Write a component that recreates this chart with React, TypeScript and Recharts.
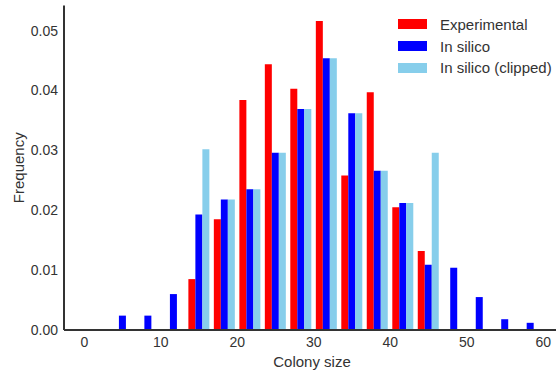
import { BarChart, Bar, XAxis, YAxis, Legend } from "recharts";

// bin centres of the histogram (colony size)
const binCenters = [5.0, 8.33, 11.67, 15.0, 18.33, 21.67, 25.0, 28.33, 31.67, 35.0, 38.33, 41.67, 45.0, 48.33, 51.67, 55.0, 58.33];

const experimental = [0, 0, 0, 0.0085, 0.0185, 0.0384, 0.0444, 0.0403, 0.0516, 0.0258, 0.0397, 0.0205, 0.0132, 0, 0, 0, 0];
const inSilico = [0.0024, 0.0024, 0.006, 0.0193, 0.0218, 0.0235, 0.0296, 0.0369, 0.0454, 0.0362, 0.0266, 0.0212, 0.0109, 0.0104, 0.0055, 0.0018, 0.0012];
const inSilicoClipped = [0, 0, 0, 0.0302, 0.0218, 0.0235, 0.0296, 0.0369, 0.0454, 0.0362, 0.0266, 0.0212, 0.0296, 0, 0, 0, 0];

const xTicks = [0, 10, 20, 30, 40, 50, 60];
const yTicks = [0, 0.01, 0.02, 0.03, 0.04, 0.05];

const series = [
  { key: "experimental", name: "Experimental", color: "#ff0000" },
  { key: "inSilico", name: "In silico", color: "#0000ff" },
  { key: "clipped", name: "In silico (clipped)", color: "#87ceeb" },
];

const data = binCenters.map((x, i) => ({
  x,
  experimental: experimental[i],
  inSilico: inSilico[i],
  clipped: inSilicoClipped[i],
}));

const FONT = "'Liberation Sans', Arial, sans-serif";
const AXIS = "#333333";
const TEXT = "#333333";

const renderLegend = () => (
  <div style={{ fontFamily: FONT, fontSize: 15, color: TEXT }}>
    {series.map((s) => (
      <div key={s.key} style={{ display: "flex", alignItems: "center", height: 21.7 }}>
        <span style={{ display: "inline-block", width: 29, height: 10, background: s.color, marginRight: 13 }} />
        <span>{s.name}</span>
      </div>
    ))}
  </div>
);

export default function App() {
  return (
    <div style={{ position: "absolute", left: 0, top: 0, width: 556, height: 372, overflow: "hidden", background: "#fff" }}>
      <BarChart
        width={570}
        height={372}
        data={data}
        barGap={0}
        margin={{ top: 5.5, right: 10, bottom: 0, left: 0 }}
      >
        <XAxis
          dataKey="x"
          type="number"
          domain={[-2.67, 62.2]}
          ticks={xTicks}
          allowDataOverflow
          tickLine={false}
          tickSize={6}
          tickMargin={1}
          height={42}
          axisLine={{ stroke: AXIS, strokeWidth: 2 }}
          tick={{ fill: TEXT, fontSize: 14, fontFamily: FONT }}
          label={{
            content: (props: any) => {
              const vb = props.viewBox;
              return (
                <text x={vb.x + vb.width / 2} y={vb.y + 31} textAnchor="middle" dominantBaseline="central" fill={TEXT} fontSize={15} fontFamily={FONT}>
                  Colony size
                </text>
              );
            },
          }}
        />
        <XAxis
          xAxisId="top"
          orientation="top"
          type="number"
          domain={[-2.67, 62.2]}
          allowDataOverflow
          tick={false}
          tickLine={false}
          height={0}
          axisLine={{ stroke: AXIS, strokeWidth: 2 }}
        />
        <YAxis
          type="number"
          domain={[0, 0.0542]}
          ticks={yTicks}
          allowDataOverflow
          width={64}
          tickLine={false}
          tickSize={6}
          tickMargin={0}
          axisLine={{ stroke: AXIS, strokeWidth: 2 }}
          tickFormatter={(v: number) => v.toFixed(2)}
          tick={{ fill: TEXT, fontSize: 14, fontFamily: FONT }}
          label={{
            content: (props: any) => {
              const vb = props.viewBox;
              const cx = vb.x + 18;
              const cy = vb.y + vb.height / 2;
              return (
                <text x={cx} y={cy} textAnchor="middle" dominantBaseline="central" transform={`rotate(-90 ${cx} ${cy})`} fill={TEXT} fontSize={15} fontFamily={FONT}>
                  Frequency
                </text>
              );
            },
          }}
        />
        <Legend
          content={renderLegend}
          layout="vertical"
          verticalAlign="middle"
          align="center"
          wrapperStyle={{ position: "absolute", left: 398, top: 13.5, width: 170 }}
        />
        {series.map((s) => (
          <Bar key={s.key} dataKey={s.key} name={s.name} fill={s.color} barSize={7} isAnimationActive={false} />
        ))}
      </BarChart>
    </div>
  );
}
